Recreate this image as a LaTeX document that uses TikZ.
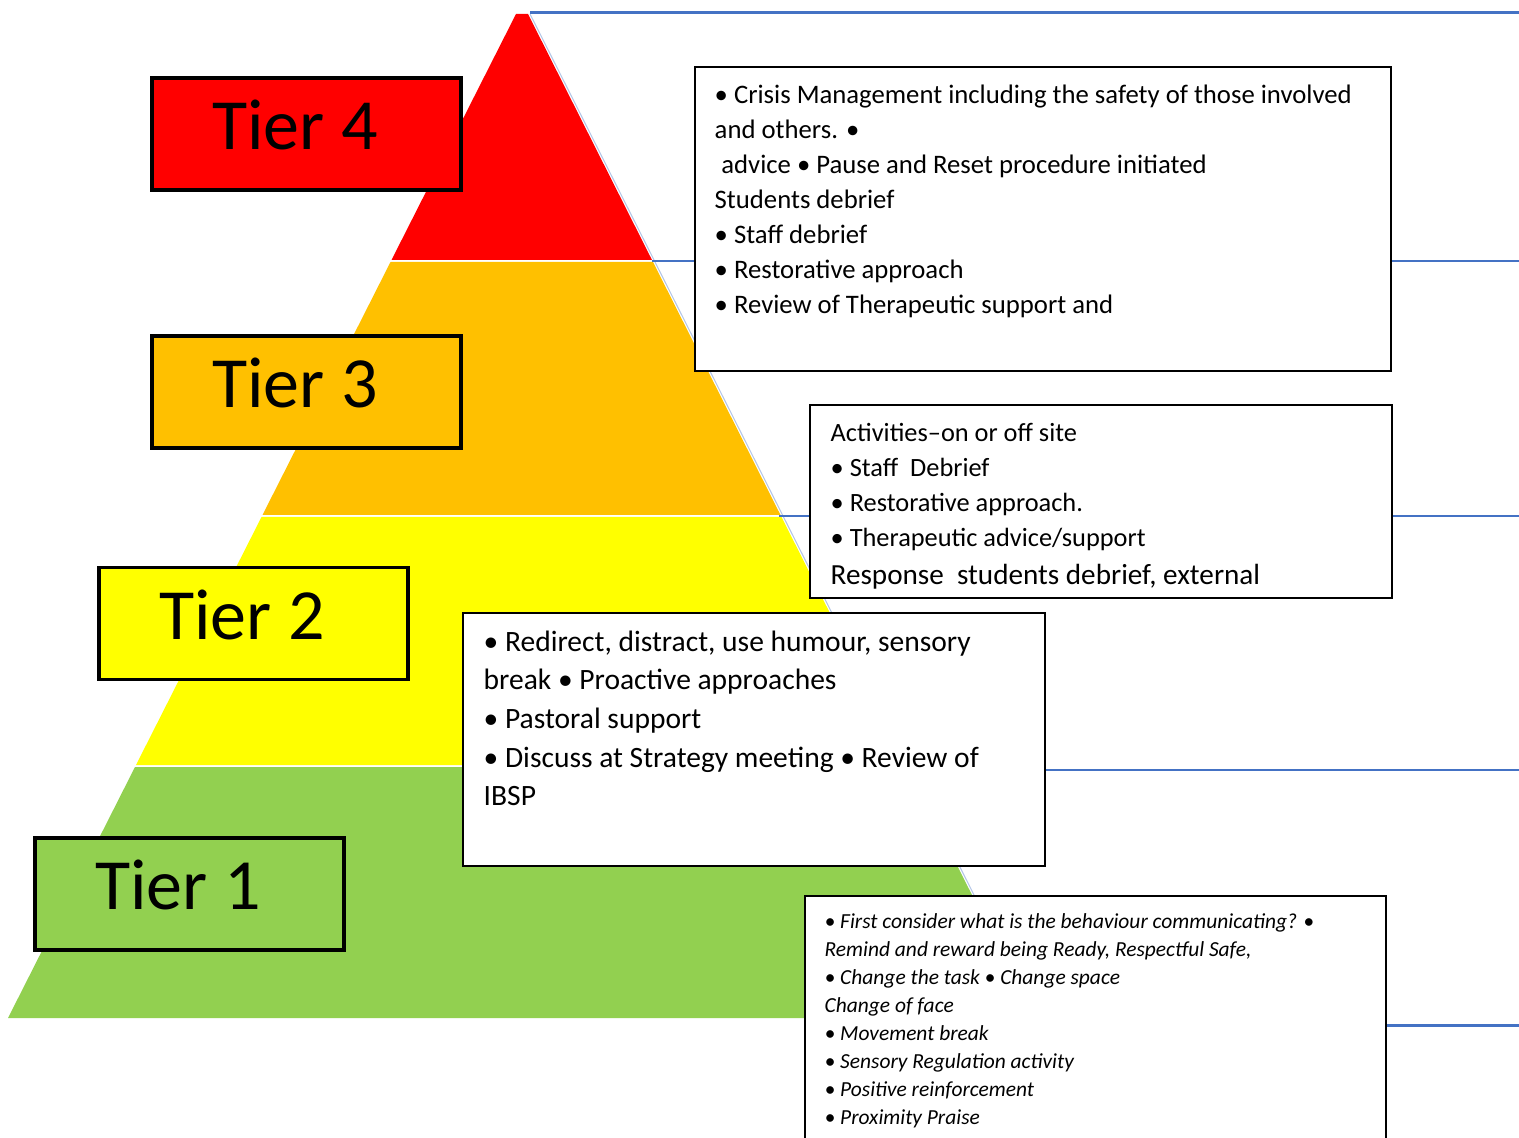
\documentclass[tikz,border=0pt]{standalone}
\usepackage{fontspec}
\setmainfont{Carlito}
\usepackage{xcolor}
\usepackage{tikz}
\usetikzlibrary{positioning}

\definecolor{tierred}{HTML}{FF0000}
\definecolor{tierorange}{HTML}{FFC000}
\definecolor{tieryellow}{HTML}{FFFF00}
\definecolor{tiergreen}{HTML}{92D050}
\definecolor{lineblue}{HTML}{4472C4}
\definecolor{edgeblue}{HTML}{B4C7E7}

\begin{document}
\begin{tikzpicture}[
	tier/.style={draw=black, line width=0.9pt, minimum width=3.09cm, minimum height=1.12cm, inner xsep=0.6cm, text width=1.89cm, align=left, text height=0.47cm, text depth=0.16cm, font=\fontsize{20.5}{24}\selectfont},
	infobox/.style={draw=black, fill=white, line width=0.7pt, anchor=north west, inner sep=0pt},
	boxtext/.style={anchor=north west, inner sep=0pt, align=left},
	rule/.style={lineblue, line width=0.85pt}
	]
	\useasboundingbox (0,0) rectangle (15.19,-11.38);
	
	% ===== PYRAMID =====
	\fill[tierred]    (5.16,-0.14) -- (5.28,-0.14) -- (6.52,-2.60) -- (3.915,-2.60) -- cycle;
	\fill[tierorange] (3.905,-2.62) -- (6.53,-2.62) -- (7.805,-5.15) -- (2.625,-5.15) -- cycle;
	\fill[tieryellow] (2.615,-5.17) -- (7.815,-5.17) -- (9.065,-7.65) -- (1.36,-7.65) -- cycle;
	\fill[tiergreen]  (1.35,-7.67) -- (9.075,-7.67) -- (10.34,-10.18) -- (0.08,-10.18) -- cycle;
	\draw[edgeblue, line width=0.3pt] (5.30,-0.14) -- (10.36,-10.18);
	
	% ===== LEVEL LINES =====
	\draw[rule] (5.30,-0.13) -- (15.19,-0.13);
	\draw[rule] (6.52,-2.61) -- (15.19,-2.61);
	\draw[rule] (7.79,-5.16) -- (15.19,-5.16);
	\draw[rule] (9.07,-7.70) -- (15.19,-7.70);
	\draw[rule] (10.35,-10.25) -- (15.19,-10.25);
	
	% ===== TIER LABELS =====
	\node[tier, fill=tierred]    (tier4) at (3.065,-1.34)  {Tier \hspace{-0.1em}4};
	\node[tier, fill=tierorange] (tier3) at (3.065,-3.92)  {Tier \hspace{-0.1em}3};
	\node[tier, fill=tieryellow] (tier2) at (2.535,-6.235) {Tier \hspace{-0.1em}2};
	\node[tier, fill=tiergreen]  (tier1) at (1.895,-8.94)  {Tier \hspace{-0.1em}1};
	
	% ===== TIER 4 BOX =====
	\node[infobox, minimum width=6.96cm, minimum height=3.04cm] (crisis) at (6.94,-0.66) {};
	\node[boxtext, font=\fontsize{7.6}{9.96}\selectfont] (crisistext) at (7.14,-0.84)
		{• Crisis Management including the safety of those involved\\
		and others. •\\
		\hspace{0.25em}advice • Pause and Reset procedure initiated\\
		Students debrief\\
		• Staff debrief\\
		• Restorative approach\\
		• Review of Therapeutic support and};
	
	% ===== TIER 3 BOX =====
	\node[infobox, minimum width=5.82cm, minimum height=1.93cm] (response) at (8.09,-4.04) {};
	\node[boxtext, font=\fontsize{7.5}{9.96}\selectfont] (responsetext) at (8.30,-4.225)
		{Activities--on or off site\\
		• Staff\ \ Debrief\\
		• Restorative approach.\\
		• Therapeutic advice/support\\[1pt]
		{\fontsize{8.3}{9.96}\selectfont Response\ \ students debrief, external}};
	
	% ===== TIER 2 BOX =====
	\node[infobox, minimum width=5.82cm, minimum height=2.53cm] (redirect) at (4.62,-6.12) {};
	\node[boxtext, font=\fontsize{8.4}{11}\selectfont] (redirecttext) at (4.83,-6.30)
		{• Redirect, distract, use humour, sensory\\
		break • Proactive approaches\\
		• Pastoral support\\
		• Discuss at Strategy meeting • Review of\\
		IBSP};
	
	% ===== TIER 1 BOX =====
	\node[infobox, minimum width=5.81cm, minimum height=2.6cm] (universal) at (8.04,-8.95) {};
	\node[boxtext, font=\fontsize{6.1}{7.97}\selectfont\itshape] (universaltext) at (8.24,-9.13)
		{• First consider what is the behaviour communicating? •\\
		Remind and reward being Ready, Respectful Safe,\\
		• Change the task • Change space\\
		Change of face\\
		• Movement break\\
		• Sensory Regulation activity\\
		• Positive reinforcement\\
		• Proximity Praise};
\end{tikzpicture}
\end{document}
